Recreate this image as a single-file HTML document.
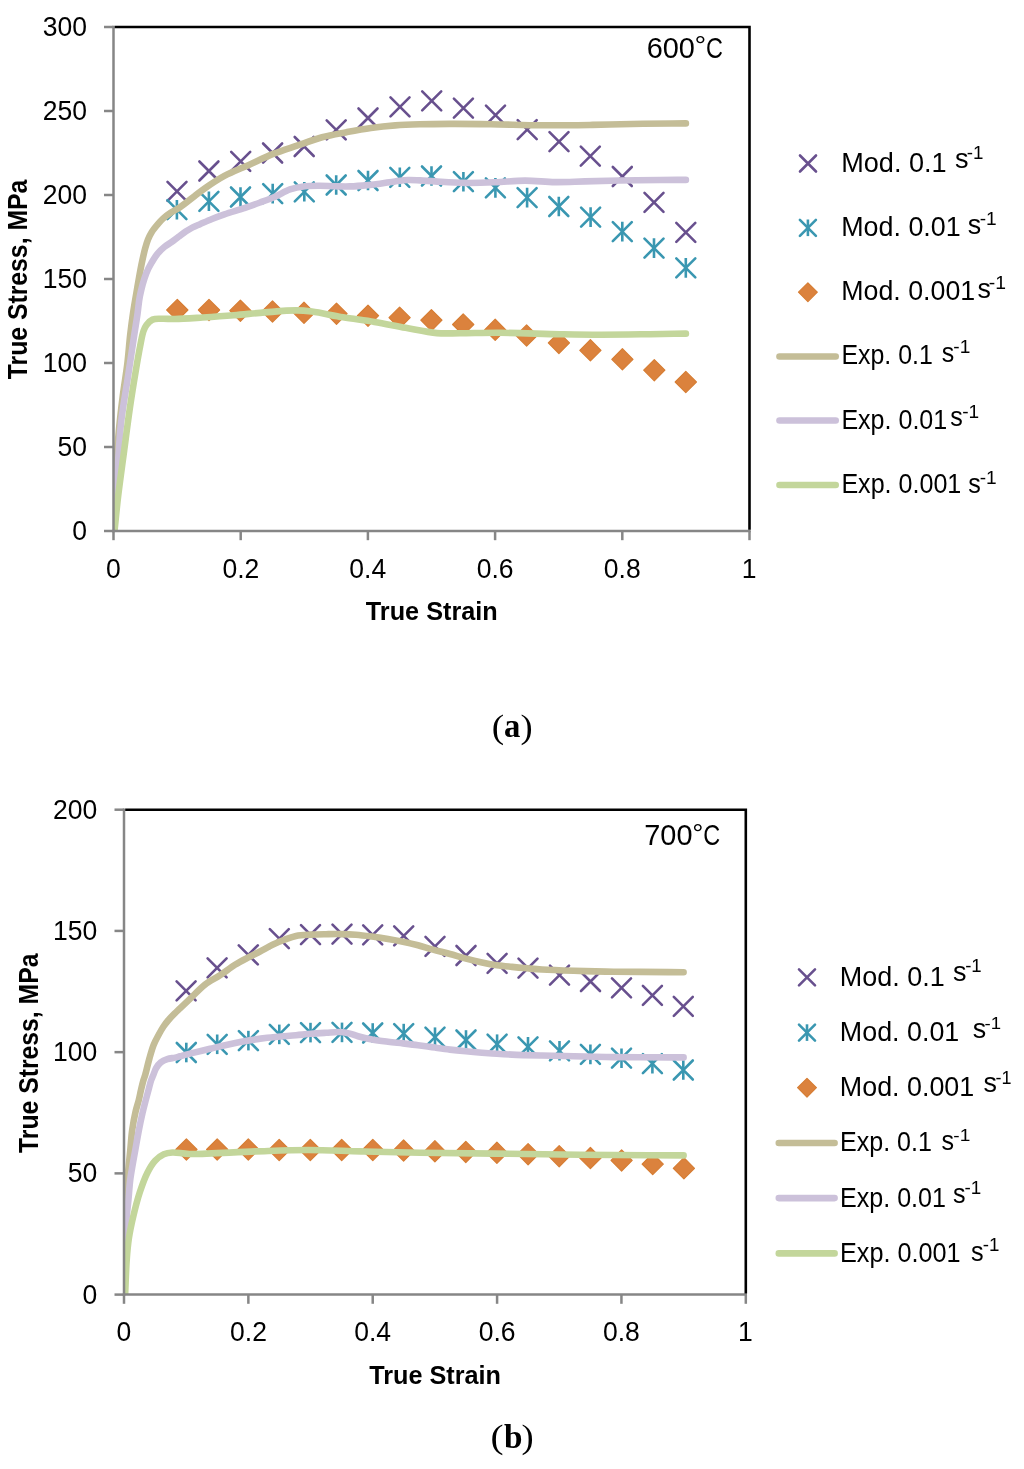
<!DOCTYPE html>
<html><head><meta charset="utf-8"><title>True Stress vs True Strain</title>
<style>html,body{margin:0;padding:0;background:#fff;}svg{display:block;will-change:transform;}</style></head>
<body><svg width="1024" height="1469" viewBox="0 0 1024 1469">
<rect x="0" y="0" width="1024" height="1469" fill="#fff"/>
<defs><clipPath id="ca"><rect x="113.5" y="27" width="636" height="504"/></clipPath><clipPath id="cb"><rect x="124" y="809.7" width="621.8" height="484.9"/></clipPath></defs>
<g clip-path="url(#ca)">
<path d="M167.50,181.90L186.50,200.90M167.50,200.90L186.50,181.90" stroke="#68508E" stroke-width="2.6" stroke-linecap="round" fill="none"/>
<path d="M199.40,161.50L218.40,180.50M199.40,180.50L218.40,161.50" stroke="#68508E" stroke-width="2.6" stroke-linecap="round" fill="none"/>
<path d="M231.20,151.80L250.20,170.80M231.20,170.80L250.20,151.80" stroke="#68508E" stroke-width="2.6" stroke-linecap="round" fill="none"/>
<path d="M263.10,143.50L282.10,162.50M263.10,162.50L282.10,143.50" stroke="#68508E" stroke-width="2.6" stroke-linecap="round" fill="none"/>
<path d="M294.70,137.00L313.70,156.00M294.70,156.00L313.70,137.00" stroke="#68508E" stroke-width="2.6" stroke-linecap="round" fill="none"/>
<path d="M326.70,120.30L345.70,139.30M326.70,139.30L345.70,120.30" stroke="#68508E" stroke-width="2.6" stroke-linecap="round" fill="none"/>
<path d="M358.50,108.50L377.50,127.50M358.50,127.50L377.50,108.50" stroke="#68508E" stroke-width="2.6" stroke-linecap="round" fill="none"/>
<path d="M390.50,97.40L409.50,116.40M390.50,116.40L409.50,97.40" stroke="#68508E" stroke-width="2.6" stroke-linecap="round" fill="none"/>
<path d="M422.20,91.30L441.20,110.30M422.20,110.30L441.20,91.30" stroke="#68508E" stroke-width="2.6" stroke-linecap="round" fill="none"/>
<path d="M453.90,98.60L472.90,117.60M453.90,117.60L472.90,98.60" stroke="#68508E" stroke-width="2.6" stroke-linecap="round" fill="none"/>
<path d="M486.00,105.70L505.00,124.70M486.00,124.70L505.00,105.70" stroke="#68508E" stroke-width="2.6" stroke-linecap="round" fill="none"/>
<path d="M517.70,120.20L536.70,139.20M517.70,139.20L536.70,120.20" stroke="#68508E" stroke-width="2.6" stroke-linecap="round" fill="none"/>
<path d="M549.50,132.20L568.50,151.20M549.50,151.20L568.50,132.20" stroke="#68508E" stroke-width="2.6" stroke-linecap="round" fill="none"/>
<path d="M580.80,146.60L599.80,165.60M580.80,165.60L599.80,146.60" stroke="#68508E" stroke-width="2.6" stroke-linecap="round" fill="none"/>
<path d="M612.80,167.00L631.80,186.00M612.80,186.00L631.80,167.00" stroke="#68508E" stroke-width="2.6" stroke-linecap="round" fill="none"/>
<path d="M644.50,192.90L663.50,211.90M644.50,211.90L663.50,192.90" stroke="#68508E" stroke-width="2.6" stroke-linecap="round" fill="none"/>
<path d="M676.30,222.90L695.30,241.90M676.30,241.90L695.30,222.90" stroke="#68508E" stroke-width="2.6" stroke-linecap="round" fill="none"/>
<path d="M167.40,200.20L186.40,219.20M167.40,219.20L186.40,200.20" stroke="#3A97B1" stroke-width="2.6" stroke-linecap="round" fill="none"/><path d="M176.90,199.90L176.90,219.50" stroke="#3A97B1" stroke-width="2.6" fill="none"/>
<path d="M199.40,191.80L218.40,210.80M199.40,210.80L218.40,191.80" stroke="#3A97B1" stroke-width="2.6" stroke-linecap="round" fill="none"/><path d="M208.90,191.50L208.90,211.10" stroke="#3A97B1" stroke-width="2.6" fill="none"/>
<path d="M231.00,187.50L250.00,206.50M231.00,206.50L250.00,187.50" stroke="#3A97B1" stroke-width="2.6" stroke-linecap="round" fill="none"/><path d="M240.50,187.20L240.50,206.80" stroke="#3A97B1" stroke-width="2.6" fill="none"/>
<path d="M263.20,184.10L282.20,203.10M263.20,203.10L282.20,184.10" stroke="#3A97B1" stroke-width="2.6" stroke-linecap="round" fill="none"/><path d="M272.70,183.80L272.70,203.40" stroke="#3A97B1" stroke-width="2.6" fill="none"/>
<path d="M294.80,182.30L313.80,201.30M294.80,201.30L313.80,182.30" stroke="#3A97B1" stroke-width="2.6" stroke-linecap="round" fill="none"/><path d="M304.30,182.00L304.30,201.60" stroke="#3A97B1" stroke-width="2.6" fill="none"/>
<path d="M326.70,175.50L345.70,194.50M326.70,194.50L345.70,175.50" stroke="#3A97B1" stroke-width="2.6" stroke-linecap="round" fill="none"/><path d="M336.20,175.20L336.20,194.80" stroke="#3A97B1" stroke-width="2.6" fill="none"/>
<path d="M358.50,171.00L377.50,190.00M358.50,190.00L377.50,171.00" stroke="#3A97B1" stroke-width="2.6" stroke-linecap="round" fill="none"/><path d="M368.00,170.70L368.00,190.30" stroke="#3A97B1" stroke-width="2.6" fill="none"/>
<path d="M390.30,167.80L409.30,186.80M390.30,186.80L409.30,167.80" stroke="#3A97B1" stroke-width="2.6" stroke-linecap="round" fill="none"/><path d="M399.80,167.50L399.80,187.10" stroke="#3A97B1" stroke-width="2.6" fill="none"/>
<path d="M422.00,166.50L441.00,185.50M422.00,185.50L441.00,166.50" stroke="#3A97B1" stroke-width="2.6" stroke-linecap="round" fill="none"/><path d="M431.50,166.20L431.50,185.80" stroke="#3A97B1" stroke-width="2.6" fill="none"/>
<path d="M453.90,172.20L472.90,191.20M453.90,191.20L472.90,172.20" stroke="#3A97B1" stroke-width="2.6" stroke-linecap="round" fill="none"/><path d="M463.40,171.90L463.40,191.50" stroke="#3A97B1" stroke-width="2.6" fill="none"/>
<path d="M485.90,178.40L504.90,197.40M485.90,197.40L504.90,178.40" stroke="#3A97B1" stroke-width="2.6" stroke-linecap="round" fill="none"/><path d="M495.40,178.10L495.40,197.70" stroke="#3A97B1" stroke-width="2.6" fill="none"/>
<path d="M517.60,188.10L536.60,207.10M517.60,207.10L536.60,188.10" stroke="#3A97B1" stroke-width="2.6" stroke-linecap="round" fill="none"/><path d="M527.10,187.80L527.10,207.40" stroke="#3A97B1" stroke-width="2.6" fill="none"/>
<path d="M549.30,197.00L568.30,216.00M549.30,216.00L568.30,197.00" stroke="#3A97B1" stroke-width="2.6" stroke-linecap="round" fill="none"/><path d="M558.80,196.70L558.80,216.30" stroke="#3A97B1" stroke-width="2.6" fill="none"/>
<path d="M581.10,207.60L600.10,226.60M581.10,226.60L600.10,207.60" stroke="#3A97B1" stroke-width="2.6" stroke-linecap="round" fill="none"/><path d="M590.60,207.30L590.60,226.90" stroke="#3A97B1" stroke-width="2.6" fill="none"/>
<path d="M612.80,222.10L631.80,241.10M612.80,241.10L631.80,222.10" stroke="#3A97B1" stroke-width="2.6" stroke-linecap="round" fill="none"/><path d="M622.30,221.80L622.30,241.40" stroke="#3A97B1" stroke-width="2.6" fill="none"/>
<path d="M644.50,238.60L663.50,257.60M644.50,257.60L663.50,238.60" stroke="#3A97B1" stroke-width="2.6" stroke-linecap="round" fill="none"/><path d="M654.00,238.30L654.00,257.90" stroke="#3A97B1" stroke-width="2.6" fill="none"/>
<path d="M676.30,258.40L695.30,277.40M676.30,277.40L695.30,258.40" stroke="#3A97B1" stroke-width="2.6" stroke-linecap="round" fill="none"/><path d="M685.80,258.10L685.80,277.70" stroke="#3A97B1" stroke-width="2.6" fill="none"/>
<path d="M177.30,299.40L187.90,310.00L177.30,320.60L166.70,310.00Z" fill="#DB823D" stroke="#D67D33" stroke-width="1.2" stroke-linejoin="round"/>
<path d="M209.00,299.40L219.60,310.00L209.00,320.60L198.40,310.00Z" fill="#DB823D" stroke="#D67D33" stroke-width="1.2" stroke-linejoin="round"/>
<path d="M240.40,300.10L251.00,310.70L240.40,321.30L229.80,310.70Z" fill="#DB823D" stroke="#D67D33" stroke-width="1.2" stroke-linejoin="round"/>
<path d="M272.50,300.90L283.10,311.50L272.50,322.10L261.90,311.50Z" fill="#DB823D" stroke="#D67D33" stroke-width="1.2" stroke-linejoin="round"/>
<path d="M304.00,302.20L314.60,312.80L304.00,323.40L293.40,312.80Z" fill="#DB823D" stroke="#D67D33" stroke-width="1.2" stroke-linejoin="round"/>
<path d="M336.50,303.10L347.10,313.70L336.50,324.30L325.90,313.70Z" fill="#DB823D" stroke="#D67D33" stroke-width="1.2" stroke-linejoin="round"/>
<path d="M368.00,305.10L378.60,315.70L368.00,326.30L357.40,315.70Z" fill="#DB823D" stroke="#D67D33" stroke-width="1.2" stroke-linejoin="round"/>
<path d="M399.60,307.10L410.20,317.70L399.60,328.30L389.00,317.70Z" fill="#DB823D" stroke="#D67D33" stroke-width="1.2" stroke-linejoin="round"/>
<path d="M431.40,309.60L442.00,320.20L431.40,330.80L420.80,320.20Z" fill="#DB823D" stroke="#D67D33" stroke-width="1.2" stroke-linejoin="round"/>
<path d="M463.20,313.90L473.80,324.50L463.20,335.10L452.60,324.50Z" fill="#DB823D" stroke="#D67D33" stroke-width="1.2" stroke-linejoin="round"/>
<path d="M495.20,319.20L505.80,329.80L495.20,340.40L484.60,329.80Z" fill="#DB823D" stroke="#D67D33" stroke-width="1.2" stroke-linejoin="round"/>
<path d="M526.60,324.90L537.20,335.50L526.60,346.10L516.00,335.50Z" fill="#DB823D" stroke="#D67D33" stroke-width="1.2" stroke-linejoin="round"/>
<path d="M558.90,332.30L569.50,342.90L558.90,353.50L548.30,342.90Z" fill="#DB823D" stroke="#D67D33" stroke-width="1.2" stroke-linejoin="round"/>
<path d="M590.40,339.70L601.00,350.30L590.40,360.90L579.80,350.30Z" fill="#DB823D" stroke="#D67D33" stroke-width="1.2" stroke-linejoin="round"/>
<path d="M622.40,348.70L633.00,359.30L622.40,369.90L611.80,359.30Z" fill="#DB823D" stroke="#D67D33" stroke-width="1.2" stroke-linejoin="round"/>
<path d="M654.30,359.60L664.90,370.20L654.30,380.80L643.70,370.20Z" fill="#DB823D" stroke="#D67D33" stroke-width="1.2" stroke-linejoin="round"/>
<path d="M685.80,371.40L696.40,382.00L685.80,392.60L675.20,382.00Z" fill="#DB823D" stroke="#D67D33" stroke-width="1.2" stroke-linejoin="round"/>
<path d="M113.50,531.00 C114.17,514.00 114.65,496.27 115.50,480.00 C116.28,465.05 117.06,451.24 118.30,437.00 C119.53,422.90 121.28,407.81 122.90,395.00 C124.27,384.15 125.98,375.01 127.20,365.00 C128.41,355.01 129.14,344.25 130.20,335.00 C131.12,327.01 131.98,320.25 133.10,312.70 C134.27,304.86 135.72,296.75 137.10,288.80 C138.48,280.85 139.94,272.17 141.40,265.00 C142.61,259.04 143.84,253.34 145.10,248.70 C146.05,245.18 146.84,242.38 148.00,239.50 C149.09,236.80 150.24,234.37 151.80,231.90 C153.47,229.26 155.82,226.52 157.80,224.20 C159.55,222.14 160.99,220.41 163.00,218.60 C165.30,216.53 168.20,214.47 171.00,212.60 C173.86,210.69 176.73,209.51 180.00,207.30 C184.30,204.40 189.87,199.68 194.30,196.30 C198.12,193.39 200.84,191.09 205.00,188.20 C210.45,184.42 217.42,179.66 224.40,175.90 C231.93,171.84 240.67,168.57 248.80,164.90 C256.93,161.23 264.98,157.17 273.20,153.90 C281.29,150.68 289.53,148.19 297.70,145.40 C305.83,142.62 313.90,139.41 322.10,137.20 C330.17,135.03 338.35,133.74 346.50,132.20 C354.62,130.67 362.75,129.13 370.90,128.00 C379.02,126.87 387.16,126.02 395.30,125.40 C403.42,124.78 411.12,124.55 419.70,124.30 C429.25,124.02 439.15,123.93 450.00,123.90 C462.59,123.86 476.46,123.99 490.80,124.20 C506.81,124.43 524.67,125.18 541.60,125.30 C558.53,125.42 575.47,125.15 592.40,124.90 C609.33,124.65 627.00,124.05 643.20,123.80 C658.05,123.57 671.67,123.53 685.90,123.40" stroke="#C4BD97" stroke-width="6.6" fill="none" stroke-linecap="round" stroke-linejoin="round"/>
<path d="M113.50,531.00 C114.33,519.00 115.02,509.08 116.00,495.00 C117.40,475.02 118.77,443.61 121.10,422.50 C122.92,406.00 125.50,393.24 127.70,378.60 C129.90,363.94 132.48,346.52 134.30,334.60 C135.55,326.44 136.54,320.64 137.50,314.00 C138.39,307.80 138.59,302.32 139.90,296.00 C141.40,288.75 144.03,279.09 146.40,273.00 C148.06,268.73 149.78,265.80 151.70,262.50 C153.53,259.35 155.39,256.26 157.60,253.60 C159.71,251.05 162.18,248.78 164.60,246.80 C166.86,244.95 169.28,243.66 171.60,242.00 C173.98,240.30 176.34,238.44 178.70,236.70 C181.04,234.98 183.33,233.17 185.70,231.60 C188.00,230.08 190.30,228.64 192.70,227.40 C195.07,226.18 197.26,225.39 200.00,224.20 C203.50,222.67 207.95,220.63 212.00,219.00 C216.08,217.36 219.72,216.02 224.40,214.40 C230.38,212.33 238.69,209.92 245.00,207.80 C250.41,205.98 255.01,204.34 260.00,202.50 C265.01,200.65 270.04,198.86 275.00,196.70 C280.05,194.50 284.89,191.14 290.00,189.40 C294.90,187.73 299.97,186.90 305.00,186.30 C309.97,185.71 315.00,185.80 320.00,185.80 C325.00,185.80 330.00,186.20 335.00,186.30 C340.00,186.40 344.78,186.57 350.00,186.40 C355.73,186.21 362.61,185.61 368.00,185.10 C372.41,184.68 375.78,184.27 380.00,183.70 C384.73,183.06 390.17,182.03 395.00,181.40 C399.48,180.82 403.75,180.16 408.00,180.00 C412.07,179.85 415.78,180.19 420.00,180.40 C424.72,180.64 429.14,181.06 435.00,181.40 C443.28,181.88 455.00,182.75 465.00,182.90 C475.00,183.05 485.00,182.68 495.00,182.30 C505.00,181.92 515.00,180.63 525.00,180.60 C535.00,180.57 545.00,181.97 555.00,182.10 C565.00,182.23 574.61,181.65 585.00,181.40 C596.22,181.12 607.94,180.73 620.00,180.50 C632.89,180.25 648.11,180.10 660.00,180.00 C669.57,179.92 677.27,179.93 685.90,179.90" stroke="#CCC1DA" stroke-width="6.6" fill="none" stroke-linecap="round" stroke-linejoin="round"/>
<path d="M114.50,531.00 C115.73,519.23 116.73,508.10 118.20,495.70 C119.84,481.85 122.05,466.44 124.00,451.80 C125.95,437.14 127.86,421.78 129.90,407.80 C131.77,395.03 133.85,382.21 135.70,371.20 C137.22,362.12 138.65,353.67 140.10,346.40 C141.25,340.64 142.12,334.88 143.50,331.00 C144.40,328.47 145.11,326.83 146.50,325.00 C148.03,322.99 150.06,320.66 152.50,319.60 C155.15,318.45 158.58,318.92 162.00,318.80 C165.99,318.66 169.87,319.10 175.00,319.00 C182.47,318.85 193.04,318.09 202.50,317.50 C212.60,316.87 223.38,316.15 233.80,315.30 C244.21,314.45 254.59,313.22 265.00,312.40 C275.42,311.58 287.67,310.34 296.30,310.40 C302.40,310.44 305.83,310.81 311.90,311.60 C320.54,312.72 332.68,315.58 343.10,317.30 C353.51,319.02 363.99,320.15 374.40,321.90 C384.83,323.65 395.18,325.93 405.60,327.80 C416.02,329.67 427.23,332.27 436.90,333.10 C445.15,333.81 451.25,333.22 460.00,333.20 C471.51,333.17 485.32,332.70 500.00,332.80 C517.98,332.92 542.02,333.88 560.00,334.20 C574.68,334.46 585.92,334.68 600.00,334.70 C615.74,334.72 634.71,334.40 650.00,334.20 C662.96,334.03 673.93,333.80 685.90,333.60" stroke="#C3D69B" stroke-width="6.6" fill="none" stroke-linecap="round" stroke-linejoin="round"/>
</g>
<g clip-path="url(#cb)">
<path d="M176.60,981.30L195.60,1000.30M176.60,1000.30L195.60,981.30" stroke="#68508E" stroke-width="2.6" stroke-linecap="round" fill="none"/>
<path d="M207.60,958.40L226.60,977.40M207.60,977.40L226.60,958.40" stroke="#68508E" stroke-width="2.6" stroke-linecap="round" fill="none"/>
<path d="M238.80,945.40L257.80,964.40M238.80,964.40L257.80,945.40" stroke="#68508E" stroke-width="2.6" stroke-linecap="round" fill="none"/>
<path d="M269.80,929.20L288.80,948.20M269.80,948.20L288.80,929.20" stroke="#68508E" stroke-width="2.6" stroke-linecap="round" fill="none"/>
<path d="M301.00,925.10L320.00,944.10M301.00,944.10L320.00,925.10" stroke="#68508E" stroke-width="2.6" stroke-linecap="round" fill="none"/>
<path d="M332.50,924.60L351.50,943.60M332.50,943.60L351.50,924.60" stroke="#68508E" stroke-width="2.6" stroke-linecap="round" fill="none"/>
<path d="M363.20,925.40L382.20,944.40M363.20,944.40L382.20,925.40" stroke="#68508E" stroke-width="2.6" stroke-linecap="round" fill="none"/>
<path d="M394.20,926.40L413.20,945.40M394.20,945.40L413.20,926.40" stroke="#68508E" stroke-width="2.6" stroke-linecap="round" fill="none"/>
<path d="M425.50,936.90L444.50,955.90M425.50,955.90L444.50,936.90" stroke="#68508E" stroke-width="2.6" stroke-linecap="round" fill="none"/>
<path d="M456.50,946.00L475.50,965.00M456.50,965.00L475.50,946.00" stroke="#68508E" stroke-width="2.6" stroke-linecap="round" fill="none"/>
<path d="M487.60,953.80L506.60,972.80M487.60,972.80L506.60,953.80" stroke="#68508E" stroke-width="2.6" stroke-linecap="round" fill="none"/>
<path d="M518.50,958.70L537.50,977.70M518.50,977.70L537.50,958.70" stroke="#68508E" stroke-width="2.6" stroke-linecap="round" fill="none"/>
<path d="M550.00,965.60L569.00,984.60M550.00,984.60L569.00,965.60" stroke="#68508E" stroke-width="2.6" stroke-linecap="round" fill="none"/>
<path d="M581.00,972.00L600.00,991.00M581.00,991.00L600.00,972.00" stroke="#68508E" stroke-width="2.6" stroke-linecap="round" fill="none"/>
<path d="M612.00,978.40L631.00,997.40M612.00,997.40L631.00,978.40" stroke="#68508E" stroke-width="2.6" stroke-linecap="round" fill="none"/>
<path d="M642.90,985.80L661.90,1004.80M642.90,1004.80L661.90,985.80" stroke="#68508E" stroke-width="2.6" stroke-linecap="round" fill="none"/>
<path d="M673.80,996.80L692.80,1015.80M673.80,1015.80L692.80,996.80" stroke="#68508E" stroke-width="2.6" stroke-linecap="round" fill="none"/>
<path d="M176.80,1043.00L195.80,1062.00M176.80,1062.00L195.80,1043.00" stroke="#3A97B1" stroke-width="2.6" stroke-linecap="round" fill="none"/><path d="M186.30,1042.70L186.30,1062.30" stroke="#3A97B1" stroke-width="2.6" fill="none"/>
<path d="M207.70,1034.80L226.70,1053.80M207.70,1053.80L226.70,1034.80" stroke="#3A97B1" stroke-width="2.6" stroke-linecap="round" fill="none"/><path d="M217.20,1034.50L217.20,1054.10" stroke="#3A97B1" stroke-width="2.6" fill="none"/>
<path d="M238.90,1031.10L257.90,1050.10M238.90,1050.10L257.90,1031.10" stroke="#3A97B1" stroke-width="2.6" stroke-linecap="round" fill="none"/><path d="M248.40,1030.80L248.40,1050.40" stroke="#3A97B1" stroke-width="2.6" fill="none"/>
<path d="M269.80,1024.90L288.80,1043.90M269.80,1043.90L288.80,1024.90" stroke="#3A97B1" stroke-width="2.6" stroke-linecap="round" fill="none"/><path d="M279.30,1024.60L279.30,1044.20" stroke="#3A97B1" stroke-width="2.6" fill="none"/>
<path d="M301.00,1023.10L320.00,1042.10M301.00,1042.10L320.00,1023.10" stroke="#3A97B1" stroke-width="2.6" stroke-linecap="round" fill="none"/><path d="M310.50,1022.80L310.50,1042.40" stroke="#3A97B1" stroke-width="2.6" fill="none"/>
<path d="M332.50,1022.90L351.50,1041.90M332.50,1041.90L351.50,1022.90" stroke="#3A97B1" stroke-width="2.6" stroke-linecap="round" fill="none"/><path d="M342.00,1022.60L342.00,1042.20" stroke="#3A97B1" stroke-width="2.6" fill="none"/>
<path d="M363.20,1023.50L382.20,1042.50M363.20,1042.50L382.20,1023.50" stroke="#3A97B1" stroke-width="2.6" stroke-linecap="round" fill="none"/><path d="M372.70,1023.20L372.70,1042.80" stroke="#3A97B1" stroke-width="2.6" fill="none"/>
<path d="M394.20,1024.10L413.20,1043.10M394.20,1043.10L413.20,1024.10" stroke="#3A97B1" stroke-width="2.6" stroke-linecap="round" fill="none"/><path d="M403.70,1023.80L403.70,1043.40" stroke="#3A97B1" stroke-width="2.6" fill="none"/>
<path d="M425.50,1027.70L444.50,1046.70M425.50,1046.70L444.50,1027.70" stroke="#3A97B1" stroke-width="2.6" stroke-linecap="round" fill="none"/><path d="M435.00,1027.40L435.00,1047.00" stroke="#3A97B1" stroke-width="2.6" fill="none"/>
<path d="M456.50,1030.50L475.50,1049.50M456.50,1049.50L475.50,1030.50" stroke="#3A97B1" stroke-width="2.6" stroke-linecap="round" fill="none"/><path d="M466.00,1030.20L466.00,1049.80" stroke="#3A97B1" stroke-width="2.6" fill="none"/>
<path d="M487.60,1034.70L506.60,1053.70M487.60,1053.70L506.60,1034.70" stroke="#3A97B1" stroke-width="2.6" stroke-linecap="round" fill="none"/><path d="M497.10,1034.40L497.10,1054.00" stroke="#3A97B1" stroke-width="2.6" fill="none"/>
<path d="M518.50,1037.30L537.50,1056.30M518.50,1056.30L537.50,1037.30" stroke="#3A97B1" stroke-width="2.6" stroke-linecap="round" fill="none"/><path d="M528.00,1037.00L528.00,1056.60" stroke="#3A97B1" stroke-width="2.6" fill="none"/>
<path d="M550.00,1041.30L569.00,1060.30M550.00,1060.30L569.00,1041.30" stroke="#3A97B1" stroke-width="2.6" stroke-linecap="round" fill="none"/><path d="M559.50,1041.00L559.50,1060.60" stroke="#3A97B1" stroke-width="2.6" fill="none"/>
<path d="M580.90,1044.90L599.90,1063.90M580.90,1063.90L599.90,1044.90" stroke="#3A97B1" stroke-width="2.6" stroke-linecap="round" fill="none"/><path d="M590.40,1044.60L590.40,1064.20" stroke="#3A97B1" stroke-width="2.6" fill="none"/>
<path d="M612.00,1048.70L631.00,1067.70M612.00,1067.70L631.00,1048.70" stroke="#3A97B1" stroke-width="2.6" stroke-linecap="round" fill="none"/><path d="M621.50,1048.40L621.50,1068.00" stroke="#3A97B1" stroke-width="2.6" fill="none"/>
<path d="M642.90,1054.20L661.90,1073.20M642.90,1073.20L661.90,1054.20" stroke="#3A97B1" stroke-width="2.6" stroke-linecap="round" fill="none"/><path d="M652.40,1053.90L652.40,1073.50" stroke="#3A97B1" stroke-width="2.6" fill="none"/>
<path d="M673.80,1060.50L692.80,1079.50M673.80,1079.50L692.80,1060.50" stroke="#3A97B1" stroke-width="2.6" stroke-linecap="round" fill="none"/><path d="M683.30,1060.20L683.30,1079.80" stroke="#3A97B1" stroke-width="2.6" fill="none"/>
<path d="M186.40,1138.90L197.00,1149.50L186.40,1160.10L175.80,1149.50Z" fill="#DB823D" stroke="#D67D33" stroke-width="1.2" stroke-linejoin="round"/>
<path d="M217.20,1138.90L227.80,1149.50L217.20,1160.10L206.60,1149.50Z" fill="#DB823D" stroke="#D67D33" stroke-width="1.2" stroke-linejoin="round"/>
<path d="M248.30,1138.90L258.90,1149.50L248.30,1160.10L237.70,1149.50Z" fill="#DB823D" stroke="#D67D33" stroke-width="1.2" stroke-linejoin="round"/>
<path d="M279.20,1139.40L289.80,1150.00L279.20,1160.60L268.60,1150.00Z" fill="#DB823D" stroke="#D67D33" stroke-width="1.2" stroke-linejoin="round"/>
<path d="M310.30,1139.40L320.90,1150.00L310.30,1160.60L299.70,1150.00Z" fill="#DB823D" stroke="#D67D33" stroke-width="1.2" stroke-linejoin="round"/>
<path d="M341.70,1139.40L352.30,1150.00L341.70,1160.60L331.10,1150.00Z" fill="#DB823D" stroke="#D67D33" stroke-width="1.2" stroke-linejoin="round"/>
<path d="M372.80,1139.40L383.40,1150.00L372.80,1160.60L362.20,1150.00Z" fill="#DB823D" stroke="#D67D33" stroke-width="1.2" stroke-linejoin="round"/>
<path d="M403.60,1140.00L414.20,1150.60L403.60,1161.20L393.00,1150.60Z" fill="#DB823D" stroke="#D67D33" stroke-width="1.2" stroke-linejoin="round"/>
<path d="M434.90,1140.70L445.50,1151.30L434.90,1161.90L424.30,1151.30Z" fill="#DB823D" stroke="#D67D33" stroke-width="1.2" stroke-linejoin="round"/>
<path d="M465.80,1141.30L476.40,1151.90L465.80,1162.50L455.20,1151.90Z" fill="#DB823D" stroke="#D67D33" stroke-width="1.2" stroke-linejoin="round"/>
<path d="M496.90,1142.20L507.50,1152.80L496.90,1163.40L486.30,1152.80Z" fill="#DB823D" stroke="#D67D33" stroke-width="1.2" stroke-linejoin="round"/>
<path d="M528.10,1143.60L538.70,1154.20L528.10,1164.80L517.50,1154.20Z" fill="#DB823D" stroke="#D67D33" stroke-width="1.2" stroke-linejoin="round"/>
<path d="M559.20,1145.60L569.80,1156.20L559.20,1166.80L548.60,1156.20Z" fill="#DB823D" stroke="#D67D33" stroke-width="1.2" stroke-linejoin="round"/>
<path d="M590.40,1147.50L601.00,1158.10L590.40,1168.70L579.80,1158.10Z" fill="#DB823D" stroke="#D67D33" stroke-width="1.2" stroke-linejoin="round"/>
<path d="M621.60,1149.80L632.20,1160.40L621.60,1171.00L611.00,1160.40Z" fill="#DB823D" stroke="#D67D33" stroke-width="1.2" stroke-linejoin="round"/>
<path d="M652.70,1153.50L663.30,1164.10L652.70,1174.70L642.10,1164.10Z" fill="#DB823D" stroke="#D67D33" stroke-width="1.2" stroke-linejoin="round"/>
<path d="M683.90,1157.70L694.50,1168.30L683.90,1178.90L673.30,1168.30Z" fill="#DB823D" stroke="#D67D33" stroke-width="1.2" stroke-linejoin="round"/>
<path d="M124.00,1294.60 C124.27,1279.73 124.45,1264.46 124.80,1250.00 C125.13,1236.30 125.51,1222.37 126.00,1210.00 C126.43,1199.28 126.78,1189.99 127.50,1180.00 C128.22,1169.99 129.45,1158.99 130.30,1150.00 C130.99,1142.66 131.30,1136.47 132.20,1130.00 C133.06,1123.82 134.27,1117.37 135.50,1112.00 C136.51,1107.57 137.85,1103.83 138.80,1100.00 C139.66,1096.53 140.22,1093.33 141.00,1090.00 C141.78,1086.66 142.69,1082.75 143.50,1080.00 C144.08,1078.03 144.57,1077.13 145.20,1075.00 C146.28,1071.36 147.61,1064.98 149.00,1060.00 C150.40,1054.98 151.81,1049.49 153.60,1045.00 C155.14,1041.12 157.05,1037.73 158.80,1034.50 C160.36,1031.62 161.83,1028.98 163.50,1026.50 C165.07,1024.17 166.70,1022.12 168.50,1020.00 C170.36,1017.81 172.51,1015.59 174.50,1013.60 C176.35,1011.75 177.90,1010.39 180.00,1008.40 C182.84,1005.71 186.33,1002.39 190.00,998.90 C194.50,994.62 199.78,988.63 205.00,984.60 C209.81,980.88 215.05,978.57 220.00,975.30 C225.05,971.97 230.10,967.86 235.00,964.80 C239.41,962.04 243.73,959.86 248.00,957.60 C252.06,955.44 255.97,953.60 260.00,951.50 C264.14,949.34 268.29,946.82 272.50,944.80 C276.62,942.83 280.93,941.02 285.00,939.50 C288.75,938.09 292.00,936.72 296.00,935.90 C300.56,934.97 306.00,934.88 311.00,934.60 C316.00,934.32 321.00,934.28 326.00,934.20 C331.00,934.12 336.00,934.00 341.00,934.10 C346.00,934.20 350.93,934.40 356.00,934.80 C361.25,935.22 366.67,935.92 372.00,936.60 C377.34,937.28 382.76,938.03 388.00,938.90 C393.09,939.74 398.01,940.64 403.00,941.70 C408.01,942.77 413.01,943.99 418.00,945.30 C423.01,946.62 427.83,948.19 433.00,949.60 C438.48,951.09 444.43,952.48 450.00,954.00 C455.42,955.48 460.65,957.20 466.00,958.60 C471.32,959.99 476.74,961.28 482.00,962.40 C487.07,963.47 491.99,964.45 497.00,965.20 C501.99,965.95 507.00,966.38 512.00,966.90 C517.00,967.42 522.00,967.87 527.00,968.30 C532.00,968.73 536.06,969.14 542.00,969.50 C550.67,970.02 563.33,970.45 574.00,970.80 C584.67,971.15 595.17,971.42 606.00,971.60 C617.16,971.79 627.96,971.81 640.00,971.90 C653.63,972.01 669.07,972.10 683.60,972.20" stroke="#C4BD97" stroke-width="6.6" fill="none" stroke-linecap="round" stroke-linejoin="round"/>
<path d="M124.00,1294.60 C124.30,1279.73 124.43,1263.39 124.90,1250.00 C125.29,1239.01 125.73,1228.98 126.40,1220.00 C126.95,1212.65 127.77,1206.67 128.40,1200.00 C129.03,1193.33 129.43,1186.18 130.20,1180.00 C130.87,1174.63 131.75,1170.00 132.60,1165.00 C133.45,1160.00 134.34,1155.36 135.30,1150.00 C136.41,1143.81 137.65,1136.39 138.90,1130.00 C140.06,1124.09 141.27,1118.28 142.50,1113.00 C143.58,1108.36 144.74,1104.05 145.80,1100.00 C146.73,1096.44 147.60,1093.33 148.50,1090.00 C149.40,1086.67 150.26,1082.74 151.20,1080.00 C151.88,1078.02 152.55,1076.81 153.30,1075.00 C154.19,1072.86 154.93,1070.12 156.20,1068.00 C157.44,1065.93 158.95,1063.87 160.80,1062.40 C162.65,1060.93 164.97,1059.99 167.30,1059.20 C169.75,1058.36 172.90,1058.14 175.20,1057.60 C177.01,1057.17 177.98,1056.84 180.00,1056.30 C183.45,1055.38 189.17,1053.83 194.00,1052.60 C199.15,1051.29 203.83,1050.14 210.00,1048.70 C218.43,1046.73 230.21,1043.85 240.00,1042.00 C249.26,1040.25 257.99,1038.93 267.20,1037.80 C276.64,1036.65 287.95,1035.94 296.00,1035.20 C301.81,1034.67 306.00,1034.20 311.00,1033.80 C316.00,1033.40 321.09,1033.10 326.00,1032.80 C330.75,1032.51 335.74,1031.78 340.00,1032.00 C343.62,1032.18 346.88,1032.85 350.00,1033.60 C352.84,1034.29 354.94,1035.36 358.00,1036.20 C362.00,1037.30 367.16,1038.50 372.00,1039.40 C377.14,1040.35 382.75,1041.03 388.00,1041.70 C393.08,1042.35 398.00,1042.82 403.00,1043.40 C408.00,1043.98 412.85,1044.53 418.00,1045.20 C423.49,1045.92 429.51,1046.85 435.00,1047.60 C440.15,1048.31 444.92,1048.99 450.00,1049.60 C455.24,1050.23 460.66,1050.78 466.00,1051.30 C471.33,1051.82 476.75,1052.28 482.00,1052.70 C487.08,1053.11 492.00,1053.48 497.00,1053.80 C502.00,1054.12 506.14,1054.36 512.00,1054.60 C520.28,1054.95 531.84,1055.24 542.00,1055.50 C552.49,1055.77 563.33,1055.95 574.00,1056.20 C584.67,1056.45 595.17,1056.82 606.00,1057.00 C617.16,1057.19 627.96,1057.23 640.00,1057.30 C653.63,1057.38 669.07,1057.37 683.60,1057.40" stroke="#CCC1DA" stroke-width="6.6" fill="none" stroke-linecap="round" stroke-linejoin="round"/>
<path d="M125.10,1295.50 C125.63,1283.63 125.94,1270.31 126.70,1259.90 C127.29,1251.74 127.81,1245.34 128.90,1238.10 C130.00,1230.81 131.55,1223.71 133.30,1216.30 C135.15,1208.46 137.33,1199.83 139.80,1192.30 C142.07,1185.37 144.55,1178.31 147.40,1172.70 C149.75,1168.08 152.13,1163.89 155.10,1160.70 C157.69,1157.92 160.74,1155.56 163.80,1154.20 C166.57,1152.97 169.10,1152.68 172.50,1152.50 C177.21,1152.25 181.97,1153.82 189.50,1154.00 C204.31,1154.36 234.73,1152.08 255.50,1151.40 C274.05,1150.79 290.63,1150.00 308.20,1150.00 C325.79,1150.00 342.91,1150.96 361.00,1151.40 C380.12,1151.86 399.15,1152.35 420.00,1152.70 C443.50,1153.10 469.23,1153.26 495.00,1153.60 C522.42,1153.96 550.19,1154.50 579.90,1154.80 C612.74,1155.13 649.03,1155.20 683.60,1155.40" stroke="#C3D69B" stroke-width="6.6" fill="none" stroke-linecap="round" stroke-linejoin="round"/>
</g>
<line x1="104.00" y1="531.00" x2="113.50" y2="531.00" stroke="#868686" stroke-width="2.5"/>
<line x1="104.00" y1="447.00" x2="113.50" y2="447.00" stroke="#868686" stroke-width="2.5"/>
<line x1="104.00" y1="363.00" x2="113.50" y2="363.00" stroke="#868686" stroke-width="2.5"/>
<line x1="104.00" y1="279.00" x2="113.50" y2="279.00" stroke="#868686" stroke-width="2.5"/>
<line x1="104.00" y1="195.00" x2="113.50" y2="195.00" stroke="#868686" stroke-width="2.5"/>
<line x1="104.00" y1="111.00" x2="113.50" y2="111.00" stroke="#868686" stroke-width="2.5"/>
<line x1="104.00" y1="27.00" x2="113.50" y2="27.00" stroke="#868686" stroke-width="2.5"/>
<line x1="113.50" y1="531.00" x2="113.50" y2="540.20" stroke="#868686" stroke-width="2.5"/>
<line x1="240.70" y1="531.00" x2="240.70" y2="540.20" stroke="#868686" stroke-width="2.5"/>
<line x1="367.90" y1="531.00" x2="367.90" y2="540.20" stroke="#868686" stroke-width="2.5"/>
<line x1="495.10" y1="531.00" x2="495.10" y2="540.20" stroke="#868686" stroke-width="2.5"/>
<line x1="622.30" y1="531.00" x2="622.30" y2="540.20" stroke="#868686" stroke-width="2.5"/>
<line x1="749.50" y1="531.00" x2="749.50" y2="540.20" stroke="#868686" stroke-width="2.5"/>
<line x1="113.50" y1="25.80" x2="113.50" y2="532.20" stroke="#868686" stroke-width="2.5"/>
<line x1="112.30" y1="531.00" x2="750.70" y2="531.00" stroke="#868686" stroke-width="2.5"/>
<path d="M114.70,27.00H749.50V529.80" stroke="#000" stroke-width="2.6" fill="none"/>
<text transform="matrix(0.13270 0 0 0.13842 72.30 540.05)" font-family='"Liberation Sans", sans-serif' font-weight="normal" font-size="200" fill="#000">0</text>
<text transform="matrix(0.13270 0 0 0.13842 57.57 456.05)" font-family='"Liberation Sans", sans-serif' font-weight="normal" font-size="200" fill="#000">50</text>
<text transform="matrix(0.13270 0 0 0.13842 42.84 372.05)" font-family='"Liberation Sans", sans-serif' font-weight="normal" font-size="200" fill="#000">100</text>
<text transform="matrix(0.13270 0 0 0.13842 42.84 288.05)" font-family='"Liberation Sans", sans-serif' font-weight="normal" font-size="200" fill="#000">150</text>
<text transform="matrix(0.13270 0 0 0.13842 42.84 204.05)" font-family='"Liberation Sans", sans-serif' font-weight="normal" font-size="200" fill="#000">200</text>
<text transform="matrix(0.13270 0 0 0.13842 42.84 120.05)" font-family='"Liberation Sans", sans-serif' font-weight="normal" font-size="200" fill="#000">250</text>
<text transform="matrix(0.13270 0 0 0.13842 42.84 36.05)" font-family='"Liberation Sans", sans-serif' font-weight="normal" font-size="200" fill="#000">300</text>
<text transform="matrix(0.13270 0 0 0.13842 106.07 577.98)" font-family='"Liberation Sans", sans-serif' font-weight="normal" font-size="200" fill="#000">0</text>
<text transform="matrix(0.13270 0 0 0.13842 222.39 577.98)" font-family='"Liberation Sans", sans-serif' font-weight="normal" font-size="200" fill="#000">0.2</text>
<text transform="matrix(0.13270 0 0 0.13842 349.32 577.98)" font-family='"Liberation Sans", sans-serif' font-weight="normal" font-size="200" fill="#000">0.4</text>
<text transform="matrix(0.13270 0 0 0.13842 476.65 577.98)" font-family='"Liberation Sans", sans-serif' font-weight="normal" font-size="200" fill="#000">0.6</text>
<text transform="matrix(0.13270 0 0 0.13842 603.85 577.98)" font-family='"Liberation Sans", sans-serif' font-weight="normal" font-size="200" fill="#000">0.8</text>
<text transform="matrix(0.13270 0 0 0.13842 741.74 577.70)" font-family='"Liberation Sans", sans-serif' font-weight="normal" font-size="200" fill="#000">1</text>
<line x1="114.50" y1="1294.60" x2="124.00" y2="1294.60" stroke="#868686" stroke-width="2.5"/>
<line x1="114.50" y1="1173.38" x2="124.00" y2="1173.38" stroke="#868686" stroke-width="2.5"/>
<line x1="114.50" y1="1052.15" x2="124.00" y2="1052.15" stroke="#868686" stroke-width="2.5"/>
<line x1="114.50" y1="930.92" x2="124.00" y2="930.92" stroke="#868686" stroke-width="2.5"/>
<line x1="114.50" y1="809.70" x2="124.00" y2="809.70" stroke="#868686" stroke-width="2.5"/>
<line x1="124.00" y1="1294.60" x2="124.00" y2="1303.80" stroke="#868686" stroke-width="2.5"/>
<line x1="248.36" y1="1294.60" x2="248.36" y2="1303.80" stroke="#868686" stroke-width="2.5"/>
<line x1="372.72" y1="1294.60" x2="372.72" y2="1303.80" stroke="#868686" stroke-width="2.5"/>
<line x1="497.08" y1="1294.60" x2="497.08" y2="1303.80" stroke="#868686" stroke-width="2.5"/>
<line x1="621.44" y1="1294.60" x2="621.44" y2="1303.80" stroke="#868686" stroke-width="2.5"/>
<line x1="745.80" y1="1294.60" x2="745.80" y2="1303.80" stroke="#868686" stroke-width="2.5"/>
<line x1="124.00" y1="808.50" x2="124.00" y2="1295.80" stroke="#868686" stroke-width="2.5"/>
<line x1="122.80" y1="1294.60" x2="747.00" y2="1294.60" stroke="#868686" stroke-width="2.5"/>
<path d="M125.20,809.70H745.80V1293.40" stroke="#000" stroke-width="2.6" fill="none"/>
<text transform="matrix(0.13270 0 0 0.13842 82.40 1303.65)" font-family='"Liberation Sans", sans-serif' font-weight="normal" font-size="200" fill="#000">0</text>
<text transform="matrix(0.13270 0 0 0.13842 67.67 1182.43)" font-family='"Liberation Sans", sans-serif' font-weight="normal" font-size="200" fill="#000">50</text>
<text transform="matrix(0.13270 0 0 0.13842 52.94 1061.20)" font-family='"Liberation Sans", sans-serif' font-weight="normal" font-size="200" fill="#000">100</text>
<text transform="matrix(0.13270 0 0 0.13842 52.94 939.98)" font-family='"Liberation Sans", sans-serif' font-weight="normal" font-size="200" fill="#000">150</text>
<text transform="matrix(0.13270 0 0 0.13842 52.94 818.75)" font-family='"Liberation Sans", sans-serif' font-weight="normal" font-size="200" fill="#000">200</text>
<text transform="matrix(0.13270 0 0 0.13842 116.57 1341.48)" font-family='"Liberation Sans", sans-serif' font-weight="normal" font-size="200" fill="#000">0</text>
<text transform="matrix(0.13270 0 0 0.13842 230.05 1341.48)" font-family='"Liberation Sans", sans-serif' font-weight="normal" font-size="200" fill="#000">0.2</text>
<text transform="matrix(0.13270 0 0 0.13842 354.14 1341.48)" font-family='"Liberation Sans", sans-serif' font-weight="normal" font-size="200" fill="#000">0.4</text>
<text transform="matrix(0.13270 0 0 0.13842 478.63 1341.48)" font-family='"Liberation Sans", sans-serif' font-weight="normal" font-size="200" fill="#000">0.6</text>
<text transform="matrix(0.13270 0 0 0.13842 602.99 1341.48)" font-family='"Liberation Sans", sans-serif' font-weight="normal" font-size="200" fill="#000">0.8</text>
<text transform="matrix(0.13270 0 0 0.13842 738.04 1341.20)" font-family='"Liberation Sans", sans-serif' font-weight="normal" font-size="200" fill="#000">1</text>
<text transform="matrix(0.12619 0 0 0.12993 365.85 620.14)" font-family='"Liberation Sans", sans-serif' font-weight="bold" font-size="200" fill="#000">True Strain</text>
<text transform="matrix(0.12619 0 0 0.12925 369.15 1383.74)" font-family='"Liberation Sans", sans-serif' font-weight="bold" font-size="200" fill="#000">True Strain</text>
<text transform="translate(27.20 379.25) rotate(-90) scale(0.12388 0.14058)" font-family='"Liberation Sans", sans-serif' font-weight="bold" font-size="200" fill="#000">True Stress, MPa</text>
<text transform="translate(37.70 1152.95) rotate(-90) scale(0.12376 0.14130)" font-family='"Liberation Sans", sans-serif' font-weight="bold" font-size="200" fill="#000">True Stress, MPa</text>
<text transform="matrix(0.14462 0 0 0.14859 646.65 58.10)" font-family='"Liberation Sans", sans-serif' font-weight="normal" font-size="200" fill="#000">600</text>
<text transform="matrix(0.14643 0 0 0.12500 694.44 54.40)" font-family='"Liberation Sans", sans-serif' font-weight="normal" font-size="200" fill="#000">°</text>
<text transform="matrix(0.11732 0 0 0.14859 705.93 58.10)" font-family='"Liberation Sans", sans-serif' font-weight="normal" font-size="200" fill="#000">C</text>
<text transform="matrix(0.14462 0 0 0.14296 644.25 845.11)" font-family='"Liberation Sans", sans-serif' font-weight="normal" font-size="200" fill="#000">700</text>
<text transform="matrix(0.13929 0 0 0.11786 692.13 840.80)" font-family='"Liberation Sans", sans-serif' font-weight="normal" font-size="200" fill="#000">°</text>
<text transform="matrix(0.11732 0 0 0.14296 703.13 845.11)" font-family='"Liberation Sans", sans-serif' font-weight="normal" font-size="200" fill="#000">C</text>
<text transform="matrix(0.18627 0 0 0.17198 491.72 737.50)" font-family='"Liberation Serif", serif' font-weight="normal" font-size="200" fill="#000">(</text>
<text transform="matrix(0.16374 0 0 0.17292 504.12 737.45)" font-family='"Liberation Serif", serif' font-weight="bold" font-size="200" fill="#000">a</text>
<text transform="matrix(0.18269 0 0 0.17198 520.60 737.50)" font-family='"Liberation Serif", serif' font-weight="normal" font-size="200" fill="#000">)</text>
<text transform="matrix(0.19608 0 0 0.17033 490.44 1447.58)" font-family='"Liberation Serif", serif' font-weight="normal" font-size="200" fill="#000">(</text>
<text transform="matrix(0.16634 0 0 0.16809 504.07 1447.66)" font-family='"Liberation Serif", serif' font-weight="bold" font-size="200" fill="#000">b</text>
<text transform="matrix(0.18269 0 0 0.17033 521.60 1447.58)" font-family='"Liberation Serif", serif' font-weight="normal" font-size="200" fill="#000">)</text>
<path d="M800.00,155.50L816.00,171.50M800.00,171.50L816.00,155.50" stroke="#68508E" stroke-width="2.6" stroke-linecap="round" fill="none"/>
<path d="M799.90,219.80L815.90,235.80M799.90,235.80L815.90,219.80" stroke="#3A97B1" stroke-width="2.6" stroke-linecap="round" fill="none"/><path d="M807.90,219.50L807.90,236.10" stroke="#3A97B1" stroke-width="2.6" fill="none"/>
<path d="M807.90,282.80L817.30,292.20L807.90,301.60L798.50,292.20Z" fill="#DB823D" stroke="#D67D33" stroke-width="1.2" stroke-linejoin="round"/>
<line x1="779.5" y1="356.5" x2="835.7" y2="356.5" stroke="#C4BD97" stroke-width="6.6" stroke-linecap="round"/>
<line x1="779.5" y1="420.5" x2="835.7" y2="420.5" stroke="#CCC1DA" stroke-width="6.6" stroke-linecap="round"/>
<line x1="779.5" y1="485.0" x2="835.7" y2="485.0" stroke="#C3D69B" stroke-width="6.6" stroke-linecap="round"/>
<text transform="matrix(0.13546 0 0 0.13406 841.23 172.20)" font-family='"Liberation Sans", sans-serif' font-weight="normal" font-size="200" fill="#000">Mod. 0.1</text>
<text transform="matrix(0.13546 0 0 0.13406 955.09 167.80)" font-family='"Liberation Sans", sans-serif' font-weight="normal" font-size="200" fill="#000">s</text>
<text transform="matrix(0.09375 0 0 0.08913 966.86 158.50)" font-family='"Liberation Sans", sans-serif' font-weight="normal" font-size="200" fill="#000">-1</text>
<text transform="matrix(0.13438 0 0 0.13406 841.25 236.30)" font-family='"Liberation Sans", sans-serif' font-weight="normal" font-size="200" fill="#000">Mod. 0.01</text>
<text transform="matrix(0.13438 0 0 0.13406 967.79 233.70)" font-family='"Liberation Sans", sans-serif' font-weight="normal" font-size="200" fill="#000">s</text>
<text transform="matrix(0.09562 0 0 0.09275 979.64 225.20)" font-family='"Liberation Sans", sans-serif' font-weight="normal" font-size="200" fill="#000">-1</text>
<text transform="matrix(0.13385 0 0 0.13406 841.26 300.20)" font-family='"Liberation Sans", sans-serif' font-weight="normal" font-size="200" fill="#000">Mod. 0.001</text>
<text transform="matrix(0.13385 0 0 0.13406 977.50 297.50)" font-family='"Liberation Sans", sans-serif' font-weight="normal" font-size="200" fill="#000">s</text>
<text transform="matrix(0.09688 0 0 0.08913 988.83 288.50)" font-family='"Liberation Sans", sans-serif' font-weight="normal" font-size="200" fill="#000">-1</text>
<text transform="matrix(0.12454 0 0 0.13406 841.41 364.00)" font-family='"Liberation Sans", sans-serif' font-weight="normal" font-size="200" fill="#000">Exp. 0.1</text>
<text transform="matrix(0.12454 0 0 0.13406 941.85 361.90)" font-family='"Liberation Sans", sans-serif' font-weight="normal" font-size="200" fill="#000">s</text>
<text transform="matrix(0.09562 0 0 0.08913 953.34 352.60)" font-family='"Liberation Sans", sans-serif' font-weight="normal" font-size="200" fill="#000">-1</text>
<text transform="matrix(0.12524 0 0 0.13406 841.40 428.50)" font-family='"Liberation Sans", sans-serif' font-weight="normal" font-size="200" fill="#000">Exp. 0.01</text>
<text transform="matrix(0.12524 0 0 0.13406 950.25 426.10)" font-family='"Liberation Sans", sans-serif' font-weight="normal" font-size="200" fill="#000">s</text>
<text transform="matrix(0.09562 0 0 0.09203 962.14 417.60)" font-family='"Liberation Sans", sans-serif' font-weight="normal" font-size="200" fill="#000">-1</text>
<text transform="matrix(0.12546 0 0 0.13406 841.39 492.80)" font-family='"Liberation Sans", sans-serif' font-weight="normal" font-size="200" fill="#000">Exp. 0.001</text>
<text transform="matrix(0.12546 0 0 0.13406 968.25 492.80)" font-family='"Liberation Sans", sans-serif' font-weight="normal" font-size="200" fill="#000">s</text>
<text transform="matrix(0.09562 0 0 0.08913 979.64 483.50)" font-family='"Liberation Sans", sans-serif' font-weight="normal" font-size="200" fill="#000">-1</text>
<path d="M799.00,969.30L815.00,985.30M799.00,985.30L815.00,969.30" stroke="#68508E" stroke-width="2.6" stroke-linecap="round" fill="none"/>
<path d="M799.00,1024.60L815.00,1040.60M799.00,1040.60L815.00,1024.60" stroke="#3A97B1" stroke-width="2.6" stroke-linecap="round" fill="none"/><path d="M807.00,1024.30L807.00,1040.90" stroke="#3A97B1" stroke-width="2.6" fill="none"/>
<path d="M807.00,1078.30L816.40,1087.70L807.00,1097.10L797.60,1087.70Z" fill="#DB823D" stroke="#D67D33" stroke-width="1.2" stroke-linejoin="round"/>
<line x1="778.8" y1="1143.0" x2="834.6" y2="1143.0" stroke="#C4BD97" stroke-width="6.6" stroke-linecap="round"/>
<line x1="778.8" y1="1198.1" x2="834.6" y2="1198.1" stroke="#CCC1DA" stroke-width="6.6" stroke-linecap="round"/>
<line x1="778.8" y1="1253.4" x2="834.6" y2="1253.4" stroke="#C3D69B" stroke-width="6.6" stroke-linecap="round"/>
<text transform="matrix(0.13493 0 0 0.13406 839.84 986.30)" font-family='"Liberation Sans", sans-serif' font-weight="normal" font-size="200" fill="#000">Mod. 0.1</text>
<text transform="matrix(0.13493 0 0 0.13406 952.89 981.40)" font-family='"Liberation Sans", sans-serif' font-weight="normal" font-size="200" fill="#000">s</text>
<text transform="matrix(0.09312 0 0 0.08913 965.16 971.70)" font-family='"Liberation Sans", sans-serif' font-weight="normal" font-size="200" fill="#000">-1</text>
<text transform="matrix(0.13426 0 0 0.13406 839.85 1041.30)" font-family='"Liberation Sans", sans-serif' font-weight="normal" font-size="200" fill="#000">Mod. 0.01</text>
<text transform="matrix(0.13426 0 0 0.13406 972.69 1038.20)" font-family='"Liberation Sans", sans-serif' font-weight="normal" font-size="200" fill="#000">s</text>
<text transform="matrix(0.09313 0 0 0.08406 984.46 1029.00)" font-family='"Liberation Sans", sans-serif' font-weight="normal" font-size="200" fill="#000">-1</text>
<text transform="matrix(0.13436 0 0 0.13406 839.85 1096.30)" font-family='"Liberation Sans", sans-serif' font-weight="normal" font-size="200" fill="#000">Mod. 0.001</text>
<text transform="matrix(0.13436 0 0 0.13406 983.59 1091.90)" font-family='"Liberation Sans", sans-serif' font-weight="normal" font-size="200" fill="#000">s</text>
<text transform="matrix(0.09000 0 0 0.08913 995.59 1083.50)" font-family='"Liberation Sans", sans-serif' font-weight="normal" font-size="200" fill="#000">-1</text>
<text transform="matrix(0.12525 0 0 0.13406 840.00 1151.30)" font-family='"Liberation Sans", sans-serif' font-weight="normal" font-size="200" fill="#000">Exp. 0.1</text>
<text transform="matrix(0.12525 0 0 0.13406 941.45 1149.90)" font-family='"Liberation Sans", sans-serif' font-weight="normal" font-size="200" fill="#000">s</text>
<text transform="matrix(0.09562 0 0 0.08623 953.34 1140.70)" font-family='"Liberation Sans", sans-serif' font-weight="normal" font-size="200" fill="#000">-1</text>
<text transform="matrix(0.12549 0 0 0.13406 839.99 1206.60)" font-family='"Liberation Sans", sans-serif' font-weight="normal" font-size="200" fill="#000">Exp. 0.01</text>
<text transform="matrix(0.12549 0 0 0.13406 952.95 1202.50)" font-family='"Liberation Sans", sans-serif' font-weight="normal" font-size="200" fill="#000">s</text>
<text transform="matrix(0.09438 0 0 0.08913 964.55 1193.50)" font-family='"Liberation Sans", sans-serif' font-weight="normal" font-size="200" fill="#000">-1</text>
<text transform="matrix(0.12621 0 0 0.13406 839.98 1261.60)" font-family='"Liberation Sans", sans-serif' font-weight="normal" font-size="200" fill="#000">Exp. 0.001</text>
<text transform="matrix(0.12621 0 0 0.13406 971.04 1261.00)" font-family='"Liberation Sans", sans-serif' font-weight="normal" font-size="200" fill="#000">s</text>
<text transform="matrix(0.09375 0 0 0.08913 982.66 1251.10)" font-family='"Liberation Sans", sans-serif' font-weight="normal" font-size="200" fill="#000">-1</text>
</svg></body></html>
